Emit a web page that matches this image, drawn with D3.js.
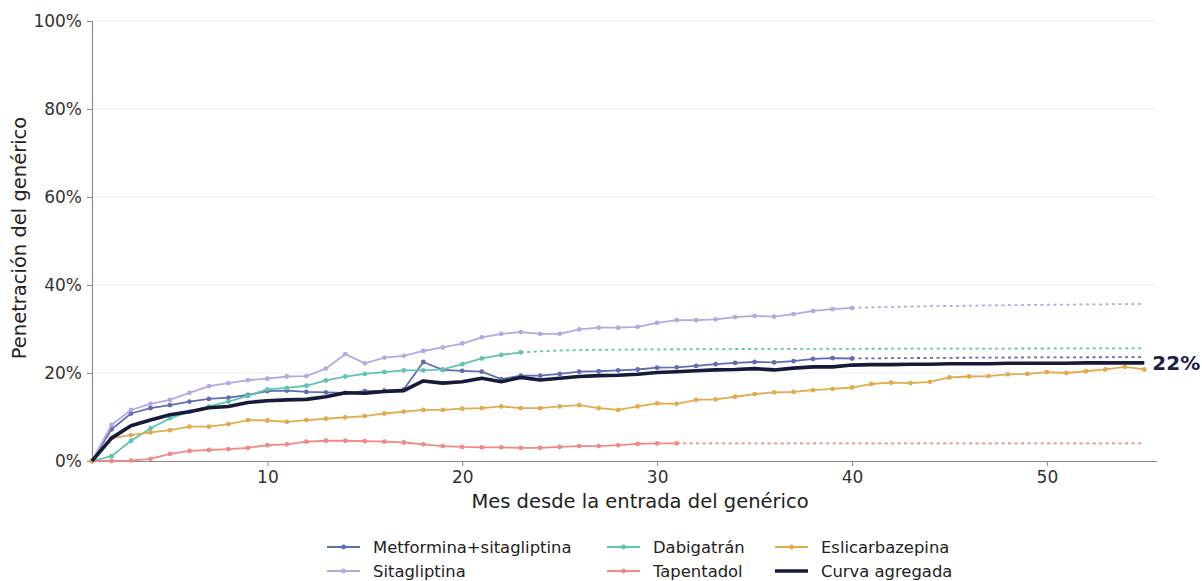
<!DOCTYPE html>
<html><head><meta charset="utf-8">
<script src="https://cdn.jsdelivr.net/npm/d3@7"></script>
<style>
body{margin:0;background:#fff;}
text{font-family:"DejaVu Sans",sans-serif;}
</style></head>
<body><svg id="chart" width="1202" height="581"></svg>
<script>
// ---- data ----
const metforminaMonths = d3.range(1, 41);
const metformina = [0,7.2,10.8,12.0,12.7,13.5,14.1,14.4,15.0,15.9,16.0,15.7,15.6,15.5,15.9,16.0,16.3,22.5,20.7,20.5,20.3,18.6,19.4,19.4,19.8,20.3,20.4,20.6,20.8,21.2,21.3,21.6,22.0,22.3,22.5,22.4,22.7,23.2,23.4,23.3];
const sitagliptinaMonths = d3.range(1, 41);
const sitagliptina = [0,8.2,11.6,13.0,13.9,15.5,17.0,17.7,18.4,18.7,19.2,19.3,21.0,24.3,22.2,23.5,23.9,25.0,25.8,26.7,28.1,28.9,29.3,28.9,28.9,29.9,30.3,30.3,30.5,31.4,32.0,32.0,32.2,32.7,33.0,32.8,33.4,34.1,34.5,34.8];
const dabigatranMonths = d3.range(1, 24);
const dabigatran = [0,1.1,4.6,7.4,9.7,11.2,12.4,13.5,14.8,16.3,16.6,17.1,18.3,19.2,19.8,20.2,20.6,20.6,20.8,22.0,23.3,24.1,24.7];
const tapentadolMonths = d3.range(1, 32);
const tapentadol = [0,0,0.1,0.5,1.6,2.3,2.5,2.7,3.0,3.6,3.8,4.4,4.6,4.6,4.5,4.4,4.2,3.8,3.4,3.2,3.1,3.1,3.0,3.0,3.2,3.4,3.4,3.6,3.9,4.0,4.0];
const eslicarbazepinaMonths = d3.range(1, 56);
const eslicarbazepina = [0,5.2,5.9,6.5,7.0,7.8,7.8,8.4,9.3,9.2,8.9,9.3,9.6,9.9,10.2,10.8,11.2,11.6,11.6,11.9,12.0,12.4,12.0,12.0,12.4,12.7,12.0,11.6,12.4,13.1,13.0,13.9,14.0,14.6,15.2,15.6,15.7,16.1,16.4,16.7,17.5,17.8,17.7,18.0,19.0,19.2,19.3,19.7,19.8,20.2,20.0,20.4,20.8,21.4,20.8];
const curvaMonths = d3.range(1, 56);
const curva = [0,5.2,8.0,9.3,10.5,11.2,12.1,12.4,13.3,13.7,13.9,14.0,14.6,15.5,15.4,15.8,16.0,18.2,17.7,18.0,18.8,18.0,19.0,18.4,18.8,19.2,19.4,19.5,19.7,20.1,20.3,20.5,20.7,20.8,21.0,20.7,21.1,21.4,21.4,21.8,21.9,21.9,22.0,22.0,22.1,22.1,22.1,22.2,22.2,22.2,22.2,22.3,22.3,22.3,22.3];
// projections (dotted)
const projMetforminaMonths = [40,45,50,55];
const projMetformina = [23.3,23.45,23.55,23.6];
const projSitagliptinaMonths = [40,43,46,50,55];
const projSitagliptina = [34.8,35.1,35.3,35.5,35.7];
const projDabigatranMonths = [23,25,28,31,40,55];
const projDabigatran = [24.7,25.1,25.3,25.4,25.5,25.6];
const projTapentadolMonths = [31,55];
const projTapentadol = [4.0,4.0];
const yTicks = [0,20,40,60,80,100];
const xTicks = [10,20,30,40,50];
const finalLabel = "22%";

// ---- layout ----
const svg = d3.select("#chart");
const L = 92, R = 1157, T = 21, B = 461;
const x = d3.scaleLinear().domain([1, 55.65]).range([L, R]);
const y = d3.scaleLinear().domain([0, 100]).range([B, T]);

// grid
svg.append("g").selectAll("line").data(yTicks.filter(d => d > 0)).join("line")
  .attr("x1", L).attr("x2", R).attr("y1", d => y(d)).attr("y2", d => y(d))
  .attr("stroke", "#f0f0f0").attr("stroke-width", 1);

// axes
const yAxis = svg.append("g").attr("transform", `translate(${L},0)`)
  .call(d3.axisLeft(y).tickValues(yTicks).tickFormat(d => d + "%").tickSize(5).tickPadding(5));
const xAxis = svg.append("g").attr("transform", `translate(0,${B})`)
  .call(d3.axisBottom(x).tickValues(xTicks).tickSize(5).tickPadding(5));
[yAxis, xAxis].forEach(a => {
  a.select(".domain").attr("stroke", "#8a8a8a").attr("stroke-width", 1.2);
  a.selectAll(".tick line").attr("stroke", "#8a8a8a").attr("stroke-width", 1);
  a.selectAll(".tick text").attr("fill", "#333").style("font-size", "17px").style("font-family", "DejaVu Sans");
});
xAxis.select(".domain").attr("d", `M${L},0.5H${R}`);

svg.append("text").attr("x", 640).attr("y", 508).attr("text-anchor", "middle")
  .attr("fill", "#222").style("font-size", "19.5px").text("Mes desde la entrada del genérico");
svg.append("text").attr("transform", "translate(26,238) rotate(-90)").attr("text-anchor", "middle")
  .attr("fill", "#222").style("font-size", "19.5px").text("Penetración del genérico");

const line = d3.line().x(d => x(d[0])).y(d => y(d[1]));
const lineSmooth = d3.line().x(d => x(d[0])).y(d => y(d[1])).curve(d3.curveMonotoneX);
const zip = (a, b) => a.map((m, i) => [m, b[i]]);

const series = [
  {name: "Metformina+sitagliptina", color: "#5f6eb3", months: metforminaMonths, vals: metformina, pm: projMetforminaMonths, pv: projMetformina},
  {name: "Sitagliptina", color: "#b4a9e0", months: sitagliptinaMonths, vals: sitagliptina, pm: projSitagliptinaMonths, pv: projSitagliptina},
  {name: "Dabigatrán", color: "#5fc4b1", months: dabigatranMonths, vals: dabigatran, pm: projDabigatranMonths, pv: projDabigatran},
  {name: "Tapentadol", color: "#ef8a84", months: tapentadolMonths, vals: tapentadol, pm: projTapentadolMonths, pv: projTapentadol},
  {name: "Eslicarbazepina", color: "#e2ab4e", months: eslicarbazepinaMonths, vals: eslicarbazepina, pm: null, pv: null},
];

// projections first
series.forEach(s => {
  if (!s.pm) return;
  svg.append("path").datum(zip(s.pm, s.pv)).attr("d", lineSmooth)
    .attr("fill", "none").attr("stroke", s.color).attr("stroke-width", 1.8)
    .attr("stroke-dasharray", "3,3.5");
});
series.forEach(s => {
  const pts = zip(s.months, s.vals);
  svg.append("path").datum(pts).attr("d", line)
    .attr("fill", "none").attr("stroke", s.color).attr("stroke-width", 1.8);
  svg.append("g").selectAll("circle").data(pts).join("circle")
    .attr("cx", d => x(d[0])).attr("cy", d => y(d[1])).attr("r", 2.4).attr("fill", s.color);
});
// aggregate
const curvaPts = zip(curvaMonths, curva);
svg.append("path").datum(curvaPts).attr("d", line)
  .attr("fill", "none").attr("stroke", "#151b38").attr("stroke-width", 3.6).attr("stroke-linejoin", "round");
const last = curvaPts[curvaPts.length - 1];
svg.append("text").attr("x", x(last[0]) + 8).attr("y", y(last[1])).attr("dy", "0.36em")
  .attr("fill", "#1b2240").style("font-size", "20px").style("font-weight", "bold").text(finalLabel);

// legend
const legendItems = [
  {name: series[0].name, color: series[0].color, col: 0, row: 0, marker: true, w: 1.8},
  {name: series[1].name, color: series[1].color, col: 0, row: 1, marker: true, w: 1.8},
  {name: series[2].name, color: series[2].color, col: 1, row: 0, marker: true, w: 1.8},
  {name: series[3].name, color: series[3].color, col: 1, row: 1, marker: true, w: 1.8},
  {name: series[4].name, color: series[4].color, col: 2, row: 0, marker: true, w: 1.8},
  {name: "Curva agregada", color: "#151b38", col: 2, row: 1, marker: false, w: 3.6},
];
const colX = [327, 607, 775], rowY = [547, 571];
const lg = svg.append("g");
legendItems.forEach(it => {
  const gx = colX[it.col], gy = rowY[it.row];
  lg.append("line").attr("x1", gx).attr("x2", gx + 33).attr("y1", gy).attr("y2", gy)
    .attr("stroke", it.color).attr("stroke-width", it.w);
  if (it.marker) lg.append("circle").attr("cx", gx + 16.5).attr("cy", gy).attr("r", 2.4).attr("fill", it.color);
  lg.append("text").attr("x", gx + 46).attr("y", gy).attr("dy", "0.36em")
    .attr("fill", "#222").style("font-size", "16.4px").text(it.name);
});
</script></body></html>
